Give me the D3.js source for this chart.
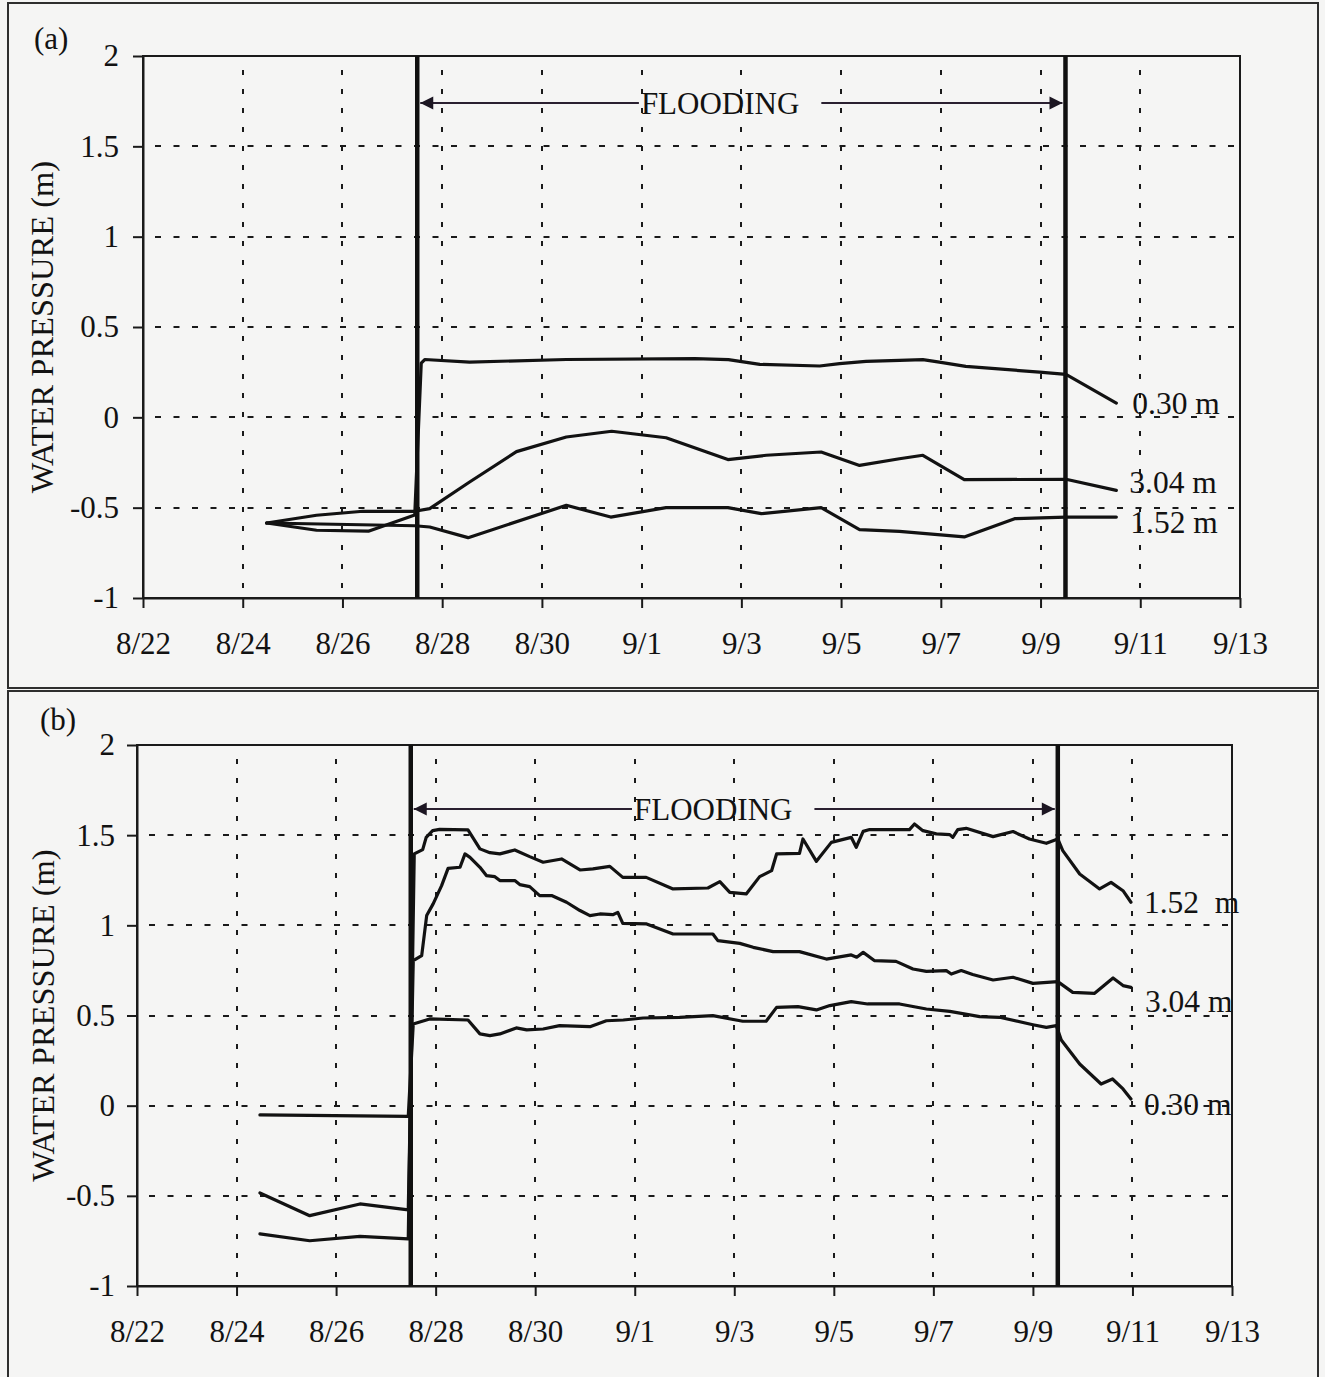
<!DOCTYPE html>
<html>
<head>
<meta charset="utf-8">
<script src="https://cdn.jsdelivr.net/npm/d3@7"></script>
<style>
  html, body { margin: 0; padding: 0; background: #f5f5f4; }
  svg { display: block; }
  text { font-family: "Liberation Serif", "Times New Roman", serif; fill: #121212; }
</style>
</head>
<body>
<svg id="chart" width="1325" height="1377"></svg>
<script>
// ---- shared axis content ----
const xTickLabels = ["8/22", "8/24", "8/26", "8/28", "8/30", "9/1", "9/3", "9/5", "9/7", "9/9", "9/11", "9/13"];
const yTickValues = [-1, -0.5, 0, 0.5, 1, 1.5, 2];
const yTickLabels = ["-1", "-0.5", "0", "0.5", "1", "1.5", "2"];
const yTitle = "WATER PRESSURE (m)";
const floodLabel = "FLOODING";
// flooding period, in days elapsed since 8/22 00:00
const floodStartDay = 5.5;
const floodEndDay = 18.5;

// ---- panel (a): times in days since 8/22 00:00, pressures in m ----
const aDays030 = [2.48, 3.48, 4.52, 5.45, 5.58, 5.65, 6.55, 8.49, 11.07, 11.74, 12.37, 13.57, 13.97, 14.50, 15.17, 15.64, 15.97, 16.50, 17.98, 18.51, 19.52];
const aVals030 = [-0.585, -0.625, -0.63, -0.54, 0.30, 0.32, 0.306, 0.32, 0.325, 0.319, 0.293, 0.284, 0.297, 0.31, 0.315, 0.319, 0.306, 0.282, 0.25, 0.238, 0.079];

const aDays304 = [2.48, 3.48, 4.41, 5.45, 5.75, 6.55, 7.49, 8.49, 9.40, 10.49, 11.73, 12.50, 13.60, 14.37, 15.17, 15.64, 16.47, 18.51, 19.52];
const aVals304 = [-0.585, -0.542, -0.52, -0.52, -0.505, -0.358, -0.19, -0.109, -0.077, -0.113, -0.234, -0.21, -0.192, -0.266, -0.229, -0.21, -0.345, -0.343, -0.404];

const aDays152 = [2.48, 5.45, 5.75, 6.52, 8.49, 9.38, 10.49, 11.73, 12.40, 13.60, 14.37, 15.17, 16.47, 17.48, 18.51, 19.52];
const aVals152 = [-0.585, -0.60, -0.607, -0.666, -0.487, -0.552, -0.50, -0.50, -0.533, -0.50, -0.622, -0.631, -0.662, -0.561, -0.552, -0.552];

// ---- panel (b) ----
const bDays152 = [2.47, 3.47, 4.48, 5.45, 5.57, 5.74, 5.81, 5.94, 6.08, 6.65, 6.89, 7.09, 7.29, 7.59, 7.89, 8.16, 8.53, 8.90, 9.16, 9.50, 9.76, 10.23, 10.77, 11.47, 11.71, 11.91, 12.24, 12.51, 12.75, 12.85, 13.31, 13.38, 13.65, 13.95, 14.35, 14.45, 14.59, 14.72, 15.52, 15.62, 15.79, 16.06, 16.33, 16.39, 16.49, 16.66, 17.20, 17.60, 17.93, 18.27, 18.50, 18.60, 18.94, 19.34, 19.57, 19.81, 19.97];
const bVals152 = [-0.711, -0.749, -0.725, -0.739, 1.396, 1.42, 1.488, 1.525, 1.532, 1.529, 1.424, 1.403, 1.396, 1.418, 1.381, 1.35, 1.368, 1.307, 1.313, 1.327, 1.266, 1.266, 1.202, 1.207, 1.242, 1.183, 1.174, 1.27, 1.303, 1.396, 1.399, 1.479, 1.355, 1.46, 1.488, 1.433, 1.521, 1.531, 1.531, 1.562, 1.525, 1.507, 1.503, 1.488, 1.531, 1.538, 1.492, 1.52, 1.479, 1.455, 1.479, 1.414, 1.285, 1.202, 1.238, 1.192, 1.128];

const bDays304 = [2.47, 3.47, 4.48, 5.45, 5.55, 5.72, 5.82, 5.95, 6.12, 6.25, 6.49, 6.59, 6.69, 6.89, 7.02, 7.19, 7.29, 7.59, 7.69, 7.89, 8.09, 8.33, 8.63, 8.90, 9.10, 9.30, 9.56, 9.66, 9.76, 10.24, 10.77, 11.57, 11.67, 12.11, 12.38, 12.78, 13.31, 13.85, 14.35, 14.46, 14.59, 14.82, 15.25, 15.59, 15.86, 16.26, 16.36, 16.56, 16.79, 17.20, 17.60, 18.00, 18.50, 18.80, 19.24, 19.61, 19.81, 19.97];
const bVals304 = [-0.484, -0.61, -0.545, -0.578, 0.804, 0.832, 1.054, 1.119, 1.22, 1.316, 1.322, 1.396, 1.377, 1.322, 1.276, 1.27, 1.248, 1.248, 1.226, 1.215, 1.165, 1.165, 1.128, 1.082, 1.054, 1.063, 1.059, 1.072, 1.011, 1.008, 0.952, 0.952, 0.915, 0.90, 0.878, 0.854, 0.854, 0.813, 0.836, 0.823, 0.85, 0.804, 0.80, 0.758, 0.745, 0.749, 0.73, 0.749, 0.727, 0.697, 0.712, 0.678, 0.688, 0.628, 0.623, 0.708, 0.666, 0.656];

const bDays030 = [2.47, 5.45, 5.55, 5.88, 6.65, 6.89, 7.09, 7.29, 7.62, 7.83, 8.16, 8.49, 9.10, 9.43, 9.77, 10.17, 10.90, 11.57, 12.17, 12.64, 12.85, 13.28, 13.65, 13.92, 14.35, 14.68, 15.32, 15.86, 16.33, 16.93, 17.33, 18.00, 18.27, 18.47, 18.57, 18.94, 19.37, 19.60, 19.81, 19.97];
const bVals030 = [-0.051, -0.059, 0.453, 0.481, 0.475, 0.398, 0.388, 0.398, 0.431, 0.42, 0.425, 0.444, 0.438, 0.471, 0.475, 0.486, 0.49, 0.499, 0.468, 0.468, 0.545, 0.549, 0.531, 0.555, 0.577, 0.564, 0.564, 0.536, 0.523, 0.494, 0.49, 0.449, 0.434, 0.444, 0.364, 0.231, 0.12, 0.148, 0.093, 0.037];

// ---- drawing ----
const svg = d3.select("#chart");
const YEAR = 1999;
const baseMs = Date.UTC(YEAR, 7, 22);
const dayToDate = d => new Date(baseMs + d * 864e5);
const parseTick = s => { const [m, d] = s.split("/").map(Number); return new Date(Date.UTC(YEAR, m - 1, d)); };
const xTickDates = xTickLabels.map(parseTick);
const zip = (ds, vs) => ds.map((d, i) => [d, vs[i]]);

// arrowhead markers for the flooding span
const defs = svg.append("defs");
[["arrowL", "M13,-6.5 L0,0 L13,6.5 Z"], ["arrowR", "M-13,-6.5 L0,0 L-13,6.5 Z"]].forEach(([id, p]) => {
  defs.append("marker").attr("id", id)
    .attr("viewBox", "-14 -8 28 16").attr("refX", 0).attr("refY", 0)
    .attr("markerWidth", 28).attr("markerHeight", 16).attr("markerUnits", "userSpaceOnUse")
    .attr("orient", "0")
    .append("path").attr("d", p).attr("fill", "#1c1622");
});

function drawPanel(cfg) {
  const g = svg.append("g");

  // outer panel frame
  g.append("rect")
    .attr("x", cfg.box[0]).attr("y", cfg.box[1]).attr("width", cfg.box[2]).attr("height", cfg.box[3])
    .attr("fill", "none").attr("stroke", "#2e2e2e").attr("stroke-width", 2);

  const x = d3.scaleUtc().domain([xTickDates[0], xTickDates[xTickDates.length - 1]]).range([cfg.left, cfg.right]);
  const y = d3.scaleLinear().domain([yTickValues[0], yTickValues[yTickValues.length - 1]]).range([cfg.bottom, cfg.top]);

  // dashed grid
  g.append("g").selectAll("line").data(xTickDates.slice(1, -1)).join("line")
    .attr("x1", d => Math.round(x(d))).attr("x2", d => Math.round(x(d)))
    .attr("y1", cfg.top).attr("y2", cfg.bottom)
    .attr("stroke", "#1a1a1a").attr("stroke-width", 2)
    .attr("stroke-dasharray", "5 14").attr("stroke-dashoffset", -14);
  g.append("g").selectAll("line").data(yTickValues.slice(1, -1)).join("line")
    .attr("x1", cfg.left).attr("x2", cfg.right)
    .attr("y1", d => Math.round(y(d))).attr("y2", d => Math.round(y(d)))
    .attr("stroke", "#1a1a1a").attr("stroke-width", 2)
    .attr("stroke-dasharray", "6 12.5").attr("stroke-dashoffset", -12);

  // plot frame
  g.append("rect")
    .attr("x", cfg.left).attr("y", cfg.top)
    .attr("width", cfg.right - cfg.left).attr("height", cfg.bottom - cfg.top)
    .attr("fill", "none").attr("stroke", "#1a1a1a").attr("stroke-width", 2);

  // axes
  const xAxis = d3.axisBottom(x).tickValues(xTickDates)
    .tickFormat((d, i) => xTickLabels[i]).tickSize(10).tickSizeOuter(0).tickPadding(24);
  const yAxis = d3.axisLeft(y).tickValues(yTickValues)
    .tickFormat((d, i) => yTickLabels[i]).tickSize(10).tickSizeOuter(0).tickPadding(cfg.yPad);
  [[xAxis, `translate(0,${cfg.bottom})`], [yAxis, `translate(${cfg.left},0)`]].forEach(([ax, tr]) => {
    const a = g.append("g").attr("transform", tr).call(ax)
      .attr("font-family", null).attr("font-size", null);
    a.select(".domain").attr("stroke", "#1a1a1a").attr("stroke-width", 2);
    a.selectAll(".tick line").attr("stroke", "#1a1a1a").attr("stroke-width", 2);
    a.selectAll(".tick text").style("font-size", "31px").attr("fill", "#121212");
  });

  // axis title and panel tag
  g.append("text")
    .attr("transform", `translate(${cfg.titleX},${(cfg.top + cfg.bottom) / 2}) rotate(-90)`)
    .attr("text-anchor", "middle").style("font-size", "32.5px").text(yTitle);
  g.append("text").attr("x", cfg.tag[0]).attr("y", cfg.tag[1])
    .style("font-size", "31px").text(cfg.tagText);

  // data lines
  const line = d3.line().x(d => x(dayToDate(d[0]))).y(d => y(d[1]));
  cfg.series.forEach(s => {
    g.append("path").datum(zip(s.days, s.vals))
      .attr("d", line).attr("fill", "none")
      .attr("stroke", "#121212").attr("stroke-width", 3.2)
      .attr("stroke-linejoin", "round").attr("stroke-linecap", "round");
    const last = s.days.length - 1;
    g.append("text")
      .attr("x", x(dayToDate(s.days[last])) + s.lab[0])
      .attr("y", y(s.vals[last]) + s.lab[1])
      .attr("dy", "0.35em").style("font-size", "31.5px").style("white-space", "pre")
      .text(s.name);
  });

  // flooding period markers
  const fx0 = x(dayToDate(floodStartDay)), fx1 = x(dayToDate(floodEndDay));
  [fx0, fx1].forEach(fx => {
    g.append("line").attr("x1", fx).attr("x2", fx).attr("y1", cfg.top).attr("y2", cfg.bottom)
      .attr("stroke", "#101010").attr("stroke-width", 4.5);
  });
  const ay = cfg.top + cfg.arrowDy;
  const tx = fx0 + (fx1 - fx0) * 0.345;
  const lbl = g.append("text").attr("x", tx).attr("y", ay + 11)
    .style("font-size", "31px").text(floodLabel);
  const tw = lbl.node().getComputedTextLength();
  g.append("line").attr("x1", fx0 + 3).attr("x2", tx - 2).attr("y1", ay).attr("y2", ay)
    .attr("stroke", "#2a2030").attr("stroke-width", 1.8).attr("marker-start", "url(#arrowL)");
  g.append("line").attr("x1", tx + tw + 22).attr("x2", fx1 - 3).attr("y1", ay).attr("y2", ay)
    .attr("stroke", "#2a2030").attr("stroke-width", 1.8).attr("marker-end", "url(#arrowR)");
}

drawPanel({
  box: [8, 3, 1310, 685],
  left: 143, right: 1240, top: 56, bottom: 598,
  yPad: 14, titleX: 53, tag: [34, 49], tagText: "(a)", arrowDy: 47,
  series: [
    { name: "0.30 m", days: aDays030, vals: aVals030, lab: [16, 0] },
    { name: "3.04 m", days: aDays304, vals: aVals304, lab: [13, -8] },
    { name: "1.52 m", days: aDays152, vals: aVals152, lab: [14, 5] }
  ]
});

drawPanel({
  box: [8, 691, 1310, 700],
  left: 137, right: 1232, top: 745, bottom: 1286,
  yPad: 12, titleX: 54, tag: [40, 730], tagText: "(b)", arrowDy: 64,
  series: [
    { name: "1.52\u00A0 m", days: bDays152, vals: bVals152, lab: [13, 0] },
    { name: "3.04 m", days: bDays304, vals: bVals304, lab: [14, 14] },
    { name: "0.30 m", days: bDays030, vals: bVals030, lab: [13, 5] }
  ]
});
</script>
</body>
</html>
